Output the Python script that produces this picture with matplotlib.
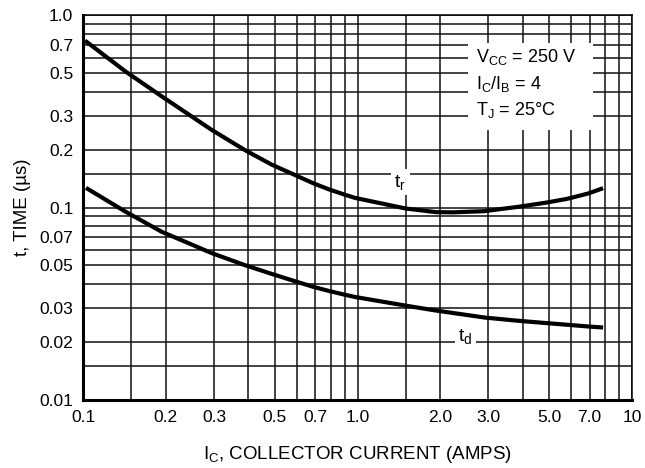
import numpy as np
import matplotlib
matplotlib.use('Agg')
import matplotlib.pyplot as plt
from matplotlib.patches import Rectangle
from matplotlib.ticker import FixedLocator, NullFormatter

plt.rcParams['font.family'] = ['Liberation Sans', 'DejaVu Sans']
plt.rcParams['mathtext.default'] = 'regular'

# values
ic_tr = [0.1017, 0.1431, 0.1935, 0.2944, 0.3892, 0.4869, 0.5886, 0.6867, 0.7897, 0.8953, 0.979, 1.498,
         1.932, 2.228, 2.89, 3.843, 4.862, 5.798, 6.915, 7.843]
t_r = [0.736, 0.508, 0.378, 0.253, 0.1986, 0.167, 0.148, 0.134, 0.124, 0.1168, 0.1122, 0.0988, 0.0946,
       0.0944, 0.0957, 0.1008, 0.106, 0.1109, 0.1182, 0.126]

ic_td = [0.1025, 0.1431, 0.1935, 0.2958, 0.3915, 0.4893, 0.5886, 0.6867, 0.7897, 0.893, 0.979, 1.502,
         1.916, 2.914, 3.843, 4.862, 5.798, 6.915, 7.843]
t_d = [0.1265, 0.095, 0.0748, 0.0578, 0.05, 0.0451, 0.0415, 0.0388, 0.0368, 0.0353, 0.0343, 0.0309,
       0.0292, 0.0268, 0.0258, 0.0251, 0.0246, 0.0241, 0.0238]

x_ticks = [0.1, 0.2, 0.3, 0.5, 0.7, 1.0, 2.0, 3.0, 5.0, 7.0, 10]
x_labels = ['0.1', '0.2', '0.3', '0.5', '0.7', '1.0', '2.0', '3.0', '5.0', '7.0', '10']
y_ticks = [0.01, 0.02, 0.03, 0.05, 0.07, 0.1, 0.2, 0.3, 0.5, 0.7, 1.0]
y_labels = ['0.01', '0.02', '0.03', '0.05', '0.07', '0.1', '0.2', '0.3', '0.5', '0.7', '1.0']

conditions = [r'$V_{CC}$ = 250 V', r'$I_C/I_B$ = 4', r'$T_J$ = 25°C']

# grid lines: 1, 1.5, 2..9 in every decade
subs = [1, 1.5, 2, 3, 4, 5, 6, 7, 8, 9]
x_grid = [d * m for d in (0.1, 1.0) for m in subs] + [10]
y_grid = [d * m for d in (0.01, 0.1) for m in subs] + [1.0]

fig = plt.figure(figsize=(6.45, 4.68), dpi=100)
ax = fig.add_axes([0.1287, 0.1453, 0.8512, 0.8226])
ax.set_xscale('log')
ax.set_yscale('log')
ax.set_xlim(0.1, 10)
ax.set_ylim(0.01, 1.0)

ax.xaxis.set_major_locator(FixedLocator(x_ticks))
ax.xaxis.set_minor_locator(FixedLocator(x_grid))
ax.yaxis.set_major_locator(FixedLocator(y_ticks))
ax.yaxis.set_minor_locator(FixedLocator(y_grid))
ax.set_xticklabels(x_labels)
ax.set_yticklabels(y_labels)
ax.xaxis.set_minor_formatter(NullFormatter())
ax.yaxis.set_minor_formatter(NullFormatter())
ax.tick_params(which='both', length=0, labelsize=12.5, colors='black')
ax.tick_params(axis='x', pad=7)
ax.tick_params(axis='y', pad=7)

ax.set_axisbelow(True)
ax.grid(which='both', color='#111111', linewidth=1.1)

for s in ['left', 'bottom']:
    ax.spines[s].set_linewidth(2.2)
for s in ['top', 'right']:
    ax.spines[s].set_linewidth(1.1)

ax.plot(ic_tr, t_r, color='black', linewidth=3.0, solid_capstyle='butt', solid_joinstyle='round', zorder=3)
ax.plot(ic_td, t_d, color='black', linewidth=3.0, solid_capstyle='butt', solid_joinstyle='round', zorder=3)

# curve names
ax.text(1.43, 0.135, r'$t_r$', fontsize=14, ha='center', va='center', zorder=4,
        bbox=dict(facecolor='white', edgecolor='none', pad=2.5))
ax.text(2.47, 0.0213, r'$t_d$', fontsize=14, ha='center', va='center', zorder=4,
        bbox=dict(facecolor='white', edgecolor='none', pad=2.5))

# test conditions box
ax.add_patch(Rectangle((0.701, 0.701), 0.228, 0.226, transform=ax.transAxes,
                       facecolor='white', edgecolor='none', zorder=2))
for i, txt in enumerate(conditions):
    ax.text(0.716, 0.89 - i * 0.069, txt, transform=ax.transAxes, fontsize=13,
            ha='left', va='center', zorder=4)

ax.set_xlabel(r'$I_C$, COLLECTOR CURRENT (AMPS)', fontsize=13.5, labelpad=14)
ax.set_ylabel('t, TIME (µs)', fontsize=13.5, labelpad=6)

fig.savefig('out.png', dpi=100)
